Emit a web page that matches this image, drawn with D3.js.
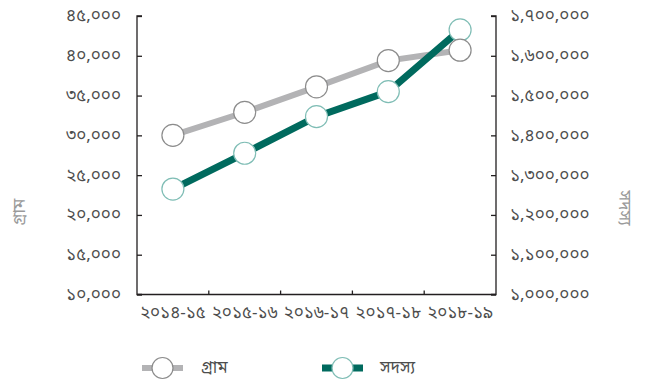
<!DOCTYPE html>
<html>
<head>
<meta charset="utf-8">
<script src="https://cdn.jsdelivr.net/npm/d3@7"></script>
<style>
  html, body { margin: 0; padding: 0; background: #fff; }
  svg { display: block; }
  text { font-family: "Noto Sans Bengali", "Noto Serif Bengali", "Lohit Bengali", "FreeSerif", "Noto Sans", sans-serif; }
</style>
</head>
<body>
<svg id="chart" width="646" height="382"></svg>
<script>
const categories = ["২০১৪-১৫", "২০১৫-১৬", "২০১৬-১৭", "২০১৭-১৮", "২০১৮-১৯"];
const villages = [30000, 32900, 36100, 39400, 40700];
const members = [1265000, 1355000, 1447000, 1510000, 1665000];
const leftTicks = [10000, 15000, 20000, 25000, 30000, 35000, 40000, 45000];
const rightTicks = [1000000, 1100000, 1200000, 1300000, 1400000, 1500000, 1600000, 1700000];
const seriesNames = ["গ্রাম", "সদস্য"];

const bnDigits = "০১২৩৪৫৬৭৮৯";
const toBn = s => String(s).replace(/[0-9]/g, d => bnDigits[+d]);
const fmt = v => toBn(d3.format(",")(v));

const svg = d3.select("#chart");
const L = 137, R = 496, T = 16, B = 294.5;

const x = d3.scaleBand().domain(categories).range([L, R]).padding(0);
const yL = d3.scaleLinear().domain([10000, 45000]).range([B, T]);
const yR = d3.scaleLinear().domain([1000000, 1700000]).range([B, T]);

const axisColor = "#231f20";
const labelColor = "#4d4d4d";
const fs = 17;

// left axis
const gL = svg.append("g").attr("transform", `translate(${L},0)`)
  .call(d3.axisRight(yL).tickValues(leftTicks).tickSize(5).tickFormat(""));
gL.select(".domain").attr("d", `M5,${T}H0V${B}H5`).attr("stroke", axisColor).attr("stroke-width", 1.3);
gL.selectAll(".tick line").attr("stroke", axisColor).attr("stroke-width", 1.3);
svg.append("g").selectAll("text").data(leftTicks).join("text")
  .attr("x", 121).attr("y", d => yL(d)).attr("dy", "0.32em")
  .attr("text-anchor", "end").attr("font-size", fs).attr("fill", labelColor)
  .text(fmt);

// right axis
const gR = svg.append("g").attr("transform", `translate(${R},0)`)
  .call(d3.axisLeft(yR).tickValues(rightTicks).tickSize(5).tickFormat(""));
gR.select(".domain").attr("d", `M-5,${T}H0V${B}H-5`).attr("stroke", axisColor).attr("stroke-width", 1.3);
gR.selectAll(".tick line").attr("stroke", axisColor).attr("stroke-width", 1.3);
svg.append("g").selectAll("text").data(rightTicks).join("text")
  .attr("x", 510).attr("y", d => yR(d)).attr("dy", "0.32em")
  .attr("text-anchor", "start").attr("font-size", fs).attr("fill", labelColor)
  .text(fmt);

// x axis
const boundaries = categories.slice(1).map(c => x(c));
svg.append("line").attr("x1", L).attr("x2", R).attr("y1", B).attr("y2", B)
  .attr("stroke", axisColor).attr("stroke-width", 1.3);
svg.append("g").selectAll("line").data(boundaries).join("line")
  .attr("x1", d => d).attr("x2", d => d).attr("y1", B).attr("y2", B - 4)
  .attr("stroke", axisColor).attr("stroke-width", 1.3);
svg.append("g").selectAll("text").data(categories).join("text")
  .attr("x", d => x(d) + x.bandwidth() / 2).attr("y", 313).attr("dy", "0.32em")
  .attr("text-anchor", "middle").attr("font-size", fs).attr("fill", labelColor)
  .text(d => d);

// axis titles
svg.append("text").attr("transform", "translate(19,212) rotate(-90)")
  .attr("text-anchor", "middle").attr("dy", "0.35em").attr("font-size", 17).attr("fill", "#9a9a9a")
  .text(seriesNames[0]);
svg.append("text").attr("transform", "translate(625,208) rotate(90)")
  .attr("text-anchor", "middle").attr("dy", "0.35em").attr("font-size", 17).attr("fill", "#9a9a9a")
  .text(seriesNames[1]);

const cx = c => x(c) + x.bandwidth() / 2;
const series = [
  { name: seriesNames[0], values: villages, y: yL, line: "#b3b3b5", width: 6, stroke: "#8c8c8c" },
  { name: seriesNames[1], values: members, y: yR, line: "#006a5e", width: 7, stroke: "#7fbdb5" }
];
const pts = s => categories.map((c, i) => [c, s.values[i]]);

function drawLine(s) {
  svg.append("path").datum(pts(s))
    .attr("fill", "none").attr("stroke", s.line).attr("stroke-width", s.width)
    .attr("d", d3.line().x(d => cx(d[0])).y(d => s.y(d[1])));
}
function drawDots(s) {
  svg.append("g").selectAll("circle").data(pts(s)).join("circle")
    .attr("cx", d => cx(d[0])).attr("cy", d => s.y(d[1])).attr("r", 11)
    .attr("fill", "#fff").attr("stroke", s.stroke).attr("stroke-width", 1.2);
}
drawLine(series[0]);
drawLine(series[1]);
drawDots(series[1]);
drawDots(series[0]);

// legend
const legend = [
  { s: series[0], x0: 142, x1: 183, cxl: 162.5, tx: 201 },
  { s: series[1], x0: 322, x1: 363, cxl: 342.5, tx: 380 }
];
const ly = 368;
legend.forEach(l => {
  svg.append("line").attr("x1", l.x0).attr("x2", l.x1).attr("y1", ly).attr("y2", ly)
    .attr("stroke", l.s.line).attr("stroke-width", l.s.width);
  svg.append("circle").attr("cx", l.cxl).attr("cy", ly).attr("r", 10.5)
    .attr("fill", "#fff").attr("stroke", l.s.stroke).attr("stroke-width", 1.2);
  svg.append("text").attr("x", l.tx).attr("y", ly).attr("dy", "0.32em")
    .attr("font-size", fs).attr("fill", labelColor).text(l.s.name);
});
</script>
</body>
</html>
